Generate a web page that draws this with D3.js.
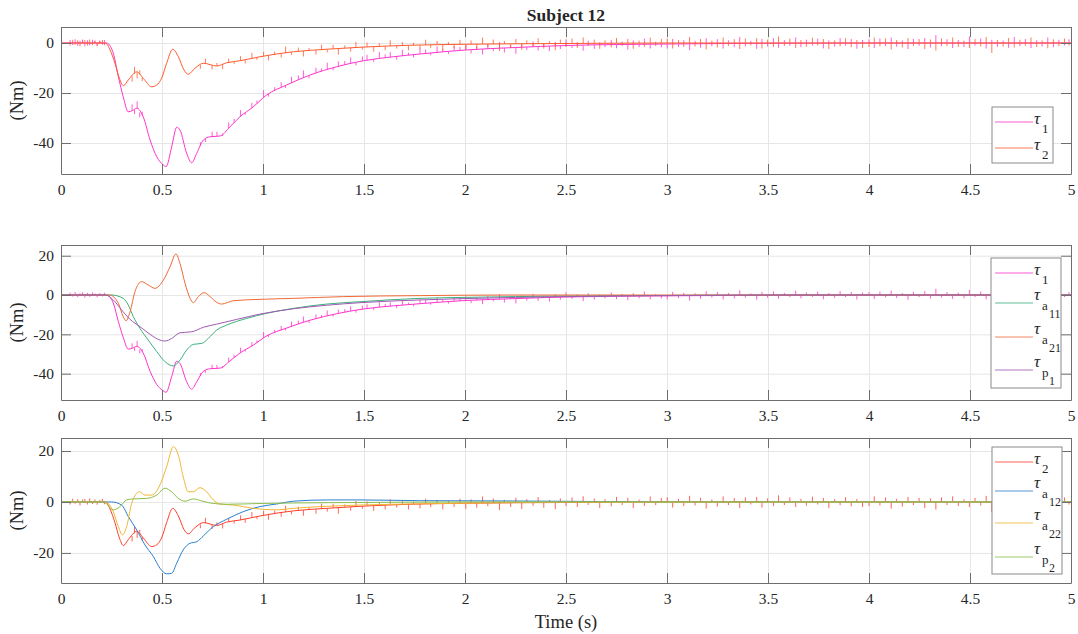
<!DOCTYPE html>
<html><head><meta charset="utf-8">
<script src="https://cdn.jsdelivr.net/npm/d3@7"></script>
<style>
body{margin:0;background:#fff}
svg{display:block}
svg text{font-family:"Liberation Serif","Times New Roman",serif !important;fill:#262626}
</style>
</head><body>
<svg id="c" width="1078" height="634"></svg>
<script>
// ---------------- DATA ----------------
const titleText = "Subject 12";
const xLabel = "Time (s)";
const yLabel = "(Nm)";
const xTicks = [0,0.5,1,1.5,2,2.5,3,3.5,4,4.5,5];
const yTicks1 = [-40,-20,0];
const yTicks2 = [-40,-20,0,20];
const yTicks3 = [-20,0,20];

// tau_1 (total joint 1)
const t_tau1 = [0,0.225,0.24,0.259,0.284,0.308,0.333,0.355,0.375,0.407,0.441,0.474,0.507,0.52,0.548,0.573,0.589,0.622,0.647,0.672,0.705,0.738,0.787,0.837,0.886,0.952,1.018,1.117,1.233,1.365,1.497,1.645,1.777,2.0,2.25,2.5,3.0,3.5,4.0,5.0];
const v_tau1 = [0,0,-0.8,-4.1,-13.5,-21.5,-27.5,-27,-26.1,-29.5,-38.8,-45.5,-48.8,-49.5,-41.5,-33.7,-34.8,-44.1,-47.9,-44.1,-38.8,-37.5,-37.2,-33.5,-29.5,-25.5,-20.8,-16.8,-12.8,-9.5,-7.1,-5.5,-4.4,-2.8,-1.8,-1.0,-0.4,-0.1,0,0];
// tau_2 (total joint 2)
const t_tau2 = [0,0.22,0.243,0.267,0.289,0.309,0.333,0.375,0.407,0.449,0.474,0.498,0.523,0.553,0.581,0.609,0.63,0.663,0.705,0.771,0.82,0.886,0.985,1.15,1.315,1.48,1.728,2.0,2.5,3.0,5.0];
const v_tau2 = [0,0,-2.8,-8.1,-14.1,-17.1,-14.8,-11.5,-14.1,-17.5,-16.8,-14.1,-8.1,-2.5,-5.5,-10.8,-12.5,-10.1,-8.1,-9.2,-7.9,-7.1,-5.5,-3.5,-2.5,-1.7,-0.9,-0.5,-0.2,0,0];
// tau_a11
const t_a11 = [0,0.25,0.308,0.333,0.358,0.391,0.432,0.474,0.515,0.556,0.589,0.622,0.655,0.697,0.73,0.771,0.82,0.919,1.018,1.15,1.315,1.48,1.777,2.0,2.5,3.0,3.5,5.0];
const v_a11 = [0,0,-1.7,-5.1,-11,-17,-22.9,-28.8,-33.9,-36.1,-33.1,-28,-25.1,-24.6,-22,-17.8,-15.3,-11.9,-9.3,-6.8,-4.6,-3.4,-1.7,-1.2,-0.5,-0.2,0,0];
// tau_a21
const t_a21 = [0,0.24,0.284,0.308,0.322,0.342,0.366,0.399,0.432,0.465,0.507,0.54,0.569,0.589,0.614,0.639,0.655,0.68,0.709,0.738,0.771,0.795,0.853,0.985,1.15,1.4,1.78,2.2,5.0];
const v_a21 = [0,0,-4.2,-11,-13.1,-8.5,1.7,6.8,5.1,3.4,7.6,14.4,20.9,16.1,6,-1.7,-3.9,-0.8,1.2,-0.8,-3.7,-4.6,-2.9,-2.2,-1.7,-0.8,-0.3,0,0];
// tau_p1
const t_p1 = [0,0.22,0.259,0.3,0.342,0.391,0.441,0.482,0.515,0.548,0.589,0.647,0.705,0.771,0.87,0.985,1.15,1.315,1.48,1.777,2.0,2.5,3.0,3.5,5.0];
const v_p1 = [0,0,-2.5,-7.6,-12.4,-16.1,-20,-22.6,-23.4,-22.1,-19.2,-18.7,-16.4,-14.8,-12.4,-9.7,-7,-5.2,-3.9,-2.5,-1.8,-0.8,-0.3,0,0];
// tau_a12
const t_a12 = [0,0.25,0.3,0.333,0.375,0.416,0.457,0.49,0.523,0.548,0.573,0.605,0.639,0.672,0.705,0.754,0.82,0.902,0.985,1.068,1.15,1.315,1.48,1.78,2.2,2.6,3.0,5.0];
const v_a12 = [0,0,-1.2,-5.7,-11,-16.9,-21.4,-26,-28.2,-28,-24,-18.8,-16.2,-15.6,-13.3,-9.7,-6.8,-3.8,-1.8,-0.8,0.3,0.8,0.8,0.5,0.4,0.2,0,0];
// tau_a22
const t_a22 = [0,0.22,0.259,0.284,0.304,0.325,0.35,0.388,0.416,0.449,0.49,0.523,0.556,0.581,0.605,0.63,0.655,0.688,0.721,0.754,0.787,0.853,0.952,1.068,1.15,1.315,1.645,2.0,2.5,5.0];
const v_a22 = [0,0,-3.8,-9.7,-12.9,-9.7,-0.5,4,2.7,2.7,6.7,13.8,21.7,18.4,9.9,4,4,5.6,4,0.8,-0.8,-1.2,-2.5,-3.1,-2.5,-1.7,-0.9,-0.5,-0.1,0];
// tau_p2
const t_p2 = [0,0.21,0.259,0.292,0.325,0.358,0.424,0.474,0.515,0.548,0.581,0.614,0.655,0.697,0.738,0.82,0.985,1.15,1.5,2.0,5.0];
const v_p2 = [0,0,-3.1,-1.8,0.8,1.2,1.4,2.7,5.4,4,1.4,0.3,1.2,0.4,-0.4,-0.9,-0.6,-0.4,-0.2,0,0];

const spikeT = [0.045,0.058,0.07,0.083,0.094,0.107,0.118,0.131,0.142,0.156,0.168,0.179,0.192,0.205,0.215,
 0.352,0.364,0.377,0.39,0.402,
 0.69,0.715,0.748,0.772,0.80,0.83,0.857,0.889,0.912,0.945,0.97,1.003,1.027,1.058,1.09,1.112,1.141,1.175,1.2,1.228,
 1.262,1.29,1.318,1.347,1.373,1.405,1.434,1.46,1.492,1.515,1.548,1.576,1.605,1.63,1.662,1.69,1.72,1.745,1.777,1.805,
 1.83,1.862,1.89,1.918,1.946,1.975,
 2.004,2.03,2.058,2.087,2.113,2.14,2.171,2.195,2.226,2.252,2.281,2.306,2.337,2.362,2.39,2.418,2.447,2.472,2.5,2.53,
 2.556,2.585,2.61,2.64,2.667,2.693,2.724,2.75,2.778,2.806,2.833,2.862,2.888,2.917,2.944,2.972,
 3.001,3.028,3.057,3.083,3.112,3.139,3.166,3.194,3.222,3.249,3.278,3.304,3.333,3.36,3.388,3.415,3.444,3.47,3.498,3.527,
 3.552,3.581,3.608,3.637,3.663,3.69,3.72,3.746,3.774,3.801,3.83,3.857,3.884,3.912,3.94,3.968,
 4.0,4.026,4.054,4.082,4.11,4.137,4.165,4.193,4.22,4.248,4.276,4.304,4.331,4.359,4.386,4.414,4.442,4.47,4.497,4.525,
 4.553,4.58,4.608,4.636,4.664,4.691,4.719,4.747,4.774,4.802,4.83,4.857,4.885,4.913,4.94,4.968,4.99];
const spikeA1 = [1.2,-0.8,1.5,-1.1,0.9,1.4,-1.3,1.1,-0.9,1.3,0.8,-1.2,1.0,-0.7,1.2,
 2.5,-1.8,3.0,-2.0,1.5,
 1.5,-1.2,2.0,1.8,-1.0,2.2,1.5,2.5,-0.8,2.0,1.2,3.0,-1.0,1.5,2.2,-1.0,2.5,1.8,3.0,-1.2,
 2.2,1.2,2.8,-1.0,2.0,1.6,2.5,-1.2,1.8,2.2,-1.0,2.6,1.4,2.0,-1.3,2.4,1.0,-1.1,2.2,1.6,
 -0.9,2.5,1.2,-1.0,1.9,1.4,
 2.0,-1.5,1.2,-2.2,1.8,-1.0,2.5,-1.8,1.0,-2.5,1.5,-1.2,2.2,-1.6,1.0,-2.0,1.6,-1.3,2.4,-1.0,
 1.3,-2.2,1.8,-1.5,1.1,-0.9,2.0,-1.4,1.2,-2.0,1.6,-1.1,2.3,-1.7,1.0,-1.3,
 -1.8,2.0,-1.2,1.5,-2.5,1.2,-1.6,2.2,-1.0,1.8,-2.0,1.3,-1.5,2.6,-1.2,1.0,-2.2,1.7,-1.3,2.0,
 -1.8,1.2,-1.0,2.3,-1.6,1.4,-0.9,1.8,-2.1,1.1,-1.4,2.0,-1.0,1.6,-2.3,1.2,
 1.4,-2.0,1.8,-1.2,2.2,-1.5,1.0,-2.4,1.6,-1.1,2.0,-1.8,3.2,-1.3,1.5,-2.0,1.2,-1.6,2.6,-1.0,
 1.8,-2.2,1.3,-1.5,1.0,-1.9,2.4,-1.2,1.6,-2.0,1.1,-1.4,2.2,-1.7,1.3,-1.0,1.5];
const spikeA2 = [-1.0,1.3,-0.7,1.1,-1.4,0.9,1.2,-1.0,1.4,-0.8,1.0,-1.1,0.8,1.2,-0.9,
 -2.2,2.8,-2.5,1.8,-1.5,
 -1.5,2.0,-1.8,1.2,-2.0,1.5,-1.0,1.8,-1.5,2.2,-1.0,1.8,-2.0,1.2,-1.6,2.5,-1.2,1.5,-2.2,1.0,
 -1.8,2.0,-1.3,1.6,-2.4,1.1,-1.5,2.2,-1.0,1.8,-2.0,1.3,-1.6,2.3,-1.1,1.4,-2.0,1.0,-1.7,2.1,
 -1.2,1.5,-2.2,1.0,-1.4,1.8,
 -2.2,1.5,-1.8,2.6,-1.2,1.8,-2.8,1.2,-1.6,2.0,-2.4,1.4,-1.2,2.2,-2.0,1.0,-2.6,1.6,-1.4,2.0,
 -1.8,2.4,-1.0,1.5,-2.2,1.2,-1.6,2.1,-1.1,1.7,-2.3,1.0,-1.5,2.2,-1.2,1.6,
 1.8,-2.2,1.2,-1.6,2.4,-1.4,1.6,-2.6,1.0,-1.8,2.2,-1.2,1.5,-2.4,1.8,-1.0,2.0,-2.2,1.4,-1.6,
 2.6,-1.2,1.8,-2.0,1.2,-1.5,2.1,-1.0,1.6,-2.4,1.1,-1.3,1.9,-1.7,1.2,-2.0,
 -1.6,2.2,-1.4,1.8,-2.6,1.2,-1.8,2.0,-1.2,1.6,-2.4,1.4,-3.0,1.8,-1.2,2.2,-1.6,1.0,-2.0,1.6,
 -1.4,2.4,-4.0,1.2,-1.5,2.0,-1.8,1.3,-1.1,2.2,-1.6,1.0,-2.1,1.5,-1.3,1.8,-1.0];

const legend1 = [["τ","1"],["τ","2"]];
const legend2 = [["τ","1"],["τ","a","11"],["τ","a","21"],["τ","p","1"]];
const legend3 = [["τ","2"],["τ","a","12"],["τ","a","22"],["τ","p","2"]];

// ---------------- LAYOUT / STYLE ----------------
const FONT = '"Liberation Serif","Times New Roman",serif';
const X0 = 61, X1 = 1071;
const C = {tau1:"#ff33cc", tau2top:"#ff5a2e", a11:"#3bb07c", a21:"#ef6a36", p1:"#a05ab4",
           tau2:"#ff3e2a", a12:"#2a7fd0", a22:"#f0b733", p2:"#8cbf4a"};
const mk = (t,v,c,sp) => ({pts:t.map((d,i)=>[d,v[i]]), c, sp});
const panels = [
  {top:27,bottom:174,ymin:-52.4,ymax:6.4,yt:yTicks1,
   series:[mk(t_tau1,v_tau1,C.tau1,spikeA1), mk(t_tau2,v_tau2,C.tau2top,spikeA2)],
   leg:{x:992,y:107,w:61,h:56,rows:[122,148],labels:legend1}},
  {top:245,bottom:400,ymin:-53.4,ymax:25.45,yt:yTicks2,
   series:[mk(t_tau1,v_tau1,C.tau1,spikeA1), mk(t_a11,v_a11,C.a11,null), mk(t_a21,v_a21,C.a21,null), mk(t_p1,v_p1,C.p1,null)],
   leg:{x:991,y:258,w:70,h:130,rows:[273,303,337,370],labels:legend2}},
  {top:438,bottom:583,ymin:-31.8,ymax:25.1,yt:yTicks3,
   series:[mk(t_tau2,v_tau2,C.tau2,spikeA2), mk(t_a12,v_a12,C.a12,null), mk(t_a22,v_a22,C.a22,null), mk(t_p2,v_p2,C.p2,null)],
   leg:{x:992,y:447,w:70,h:127,rows:[462,491,523,557],labels:legend3}}
];

const svg = d3.select("#c");
const x = d3.scaleLinear().domain([0,5]).range([X0,X1]);
const fmt = d => String(d);
const axisCol = "#6e6e6e", gridCol = "#e6e6e6";

function interp(pts, t){
  const i = d3.bisector(d=>d[0]).left(pts, t);
  if(i<=0) return pts[0][1];
  if(i>=pts.length) return pts[pts.length-1][1];
  const a=pts[i-1], b=pts[i];
  return a[1] + (b[1]-a[1])*(t-a[0])/(b[0]-a[0]);
}

panels.forEach((p,pi)=>{
  const y = d3.scaleLinear().domain([p.ymin,p.ymax]).range([p.bottom,p.top]);
  const h = p.bottom - p.top;
  const g = svg.append("g");
  // grid
  g.append("g").attr("transform",`translate(0,${p.bottom})`)
    .call(d3.axisBottom(x).tickValues(xTicks).tickSize(-h).tickFormat(""))
    .call(s=>{s.select(".domain").remove(); s.selectAll("line").attr("stroke",gridCol);});
  g.append("g").attr("transform",`translate(${X0},0)`)
    .call(d3.axisLeft(y).tickValues(p.yt).tickSize(-(X1-X0)).tickFormat(""))
    .call(s=>{s.select(".domain").remove(); s.selectAll("line").attr("stroke",gridCol);});
  // clip
  const cid = "clip"+pi;
  svg.append("clipPath").attr("id",cid).append("rect")
    .attr("x",X0).attr("y",p.top).attr("width",X1-X0).attr("height",h);
  const dg = g.append("g").attr("clip-path",`url(#${cid})`);
  const line = d3.line().x(d=>x(d[0])).y(d=>y(d[1])).curve(d3.curveMonotoneX);
  p.series.forEach(s=>{
    dg.append("path").attr("d",line(s.pts)).attr("fill","none")
      .attr("stroke",s.c).attr("stroke-width",1);
    if(s.sp){
      const path = d3.path();
      spikeT.forEach((t,i)=>{
        const b = interp(s.pts,t);
        path.moveTo(x(t), y(b)); path.lineTo(x(t), y(b+s.sp[i]));
      });
      dg.append("path").attr("d",path.toString()).attr("fill","none")
        .attr("stroke",s.c).attr("stroke-width",0.8);
    }
  });
  // axes (inward ticks)
  const axes = [
    [d3.axisBottom(x).tickValues(xTicks).tickSize(-10).tickPadding(10).tickFormat(fmt), `translate(0,${p.bottom})`],
    [d3.axisTop(x).tickValues(xTicks).tickSize(-10).tickFormat(""), `translate(0,${p.top})`],
    [d3.axisLeft(y).tickValues(p.yt).tickSize(-10).tickPadding(7).tickFormat(fmt), `translate(${X0},0)`],
    [d3.axisRight(y).tickValues(p.yt).tickSize(-10).tickFormat(""), `translate(${X1},0)`]
  ];
  axes.forEach(([ax,tr])=>{
    g.append("g").attr("transform",tr).call(ax.tickSizeOuter(0))
      .attr("font-family",FONT)
      .call(s=>{
        s.select(".domain").attr("stroke",axisCol);
        s.selectAll("line").attr("stroke",axisCol);
        s.selectAll("text").style("font-family",FONT).attr("font-size",15.5).attr("fill","#262626");
      });
  });
  // y label
  g.append("text").attr("transform",`translate(23,${(p.top+p.bottom)/2}) rotate(-90)`)
    .attr("text-anchor","middle").attr("font-size",18.5).style("font-family",FONT).text(yLabel);
  // legend
  const L = p.leg;
  const lg = g.append("g");
  lg.append("rect").attr("x",L.x).attr("y",L.y).attr("width",L.w).attr("height",L.h)
    .attr("fill","#fff").attr("stroke","#8a8a8a").attr("stroke-width",1);
  L.labels.forEach((lab,i)=>{
    const ly = L.rows[i];
    const c = p.series[i].c;
    lg.append("line").attr("x1",995).attr("x2",1033).attr("y1",ly).attr("y2",ly)
      .attr("stroke",c).attr("stroke-width",1.2).attr("opacity",0.8);
    const dbl = lab.length===3;
    const t = lg.append("text").attr("font-size",17).style("font-family",FONT);
    t.append("tspan").attr("x",1034).attr("y",ly+(dbl?-3:2)).attr("font-style","italic").text(lab[0]);
    t.append("tspan").attr("x",1042).attr("y",ly+(dbl?7:11)).attr("font-size",13).text(lab[1]);
    if(dbl) t.append("tspan").attr("x",1049).attr("y",ly+15).attr("font-size",12).text(lab[2]);
  });
});

// title and x label
svg.append("text").attr("x",(X0+X1)/2).attr("y",21).attr("text-anchor","middle").style("font-family",FONT)
  .attr("font-weight","bold").attr("font-size",17.5).text(titleText);
svg.append("text").attr("x",(X0+X1)/2).attr("y",628).attr("text-anchor","middle").style("font-family",FONT)
  .attr("font-size",18.5).text(xLabel);
</script>
</body></html>
